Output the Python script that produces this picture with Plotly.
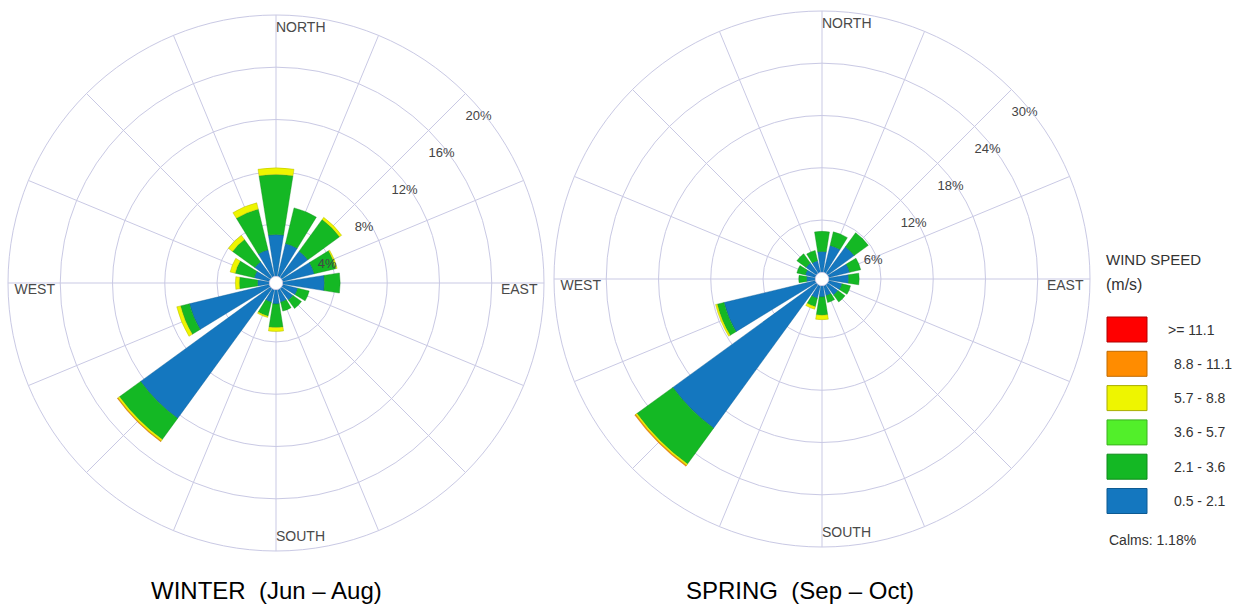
import plotly.graph_objects as go

# Compass directions (degrees, clockwise from north)
directions = [0, 22.5, 45, 67.5, 90, 112.5, 135, 157.5,
              180, 202.5, 225, 247.5, 270, 292.5, 315, 337.5]

# Wind speed classes (m/s)
speed_bins = ["0.5 - 2.1", "2.1 - 3.6", "3.6 - 5.7", "5.7 - 8.8", "8.8 - 11.1", ">= 11.1"]
bin_colors = ["#1477bf", "#14b824", "#52ef2a", "#eef500", "#ff8c00", "#ff0000"]
bin_edges = ["#0d5a92", "#0e8a1a", "#3bb01e", "#a8ad00", "#c06a00", "#b00000"]

# Frequency (%) per direction and speed class — winter
winter = {
    "0.5 - 2.1":  [3.2, 2.6, 2.5, 2.5, 3.2, 1.2, 1.1, 1.0, 1.1, 1.0, 12.3, 6.3, 0.9, 1.2, 1.5, 2.1],
    "2.1 - 3.6":  [4.6, 2.8, 3.0, 1.7, 1.2, 0.9, 0.8, 0.7, 1.8, 1.1, 2.0, 0.7, 1.4, 1.5, 2.1, 3.2],
    "3.6 - 5.7":  [0, 0, 0, 0, 0, 0, 0, 0, 0, 0, 0, 0, 0, 0, 0, 0],
    "5.7 - 8.8":  [0.5, 0.0, 0.2, 0.1, 0.0, 0.0, 0.0, 0.0, 0.3, 0.1, 0.15, 0.3, 0.3, 0.4, 0.4, 0.5],
    "8.8 - 11.1": [0, 0, 0, 0, 0, 0, 0, 0, 0, 0, 0.05, 0, 0, 0, 0, 0],
    ">= 11.1":    [0, 0, 0, 0, 0, 0, 0, 0, 0, 0, 0, 0, 0, 0, 0, 0],
}

# Frequency (%) per direction and speed class — spring
spring = {
    "0.5 - 2.1":  [2.4, 3.2, 3.8, 2.5, 2.3, 1.6, 1.5, 1.2, 1.3, 1.5, 20.4, 10.8, 1.0, 1.2, 1.5, 1.4],
    "2.1 - 3.6":  [2.3, 1.6, 2.0, 1.3, 1.2, 1.0, 1.0, 0.8, 2.1, 1.0, 5.1, 0.8, 0.9, 1.0, 1.3, 1.2],
    "3.6 - 5.7":  [0, 0, 0, 0, 0, 0, 0, 0, 0, 0, 0, 0, 0, 0, 0, 0],
    "5.7 - 8.8":  [0, 0, 0, 0, 0, 0, 0, 0, 0.5, 0.3, 0.2, 0.2, 0, 0, 0, 0],
    "8.8 - 11.1": [0, 0, 0, 0, 0, 0, 0, 0, 0, 0, 0.1, 0, 0, 0, 0, 0],
    ">= 11.1":    [0, 0, 0, 0, 0, 0, 0, 0, 0, 0, 0, 0, 0, 0, 0, 0],
}

winter_ticks = [4, 8, 12, 16, 20]
spring_ticks = [6, 12, 18, 24, 30]
compass_names = ["NORTH", "EAST", "SOUTH", "WEST"]
compass_theta = [0, 90, 180, 270]
season_titles = ["WINTER\u00a0\u00a0(Jun \u2013 Aug)", "SPRING\u00a0\u00a0(Sep \u2013 Oct)"]
calms_text = "Calms: 1.18%"

W, H = 1260, 611
GRID = "#c9c9e4"
LABEL_FONT = dict(family="Arial", size=14, color="#4a4a4a")

fig = go.Figure()


def add_rose(data, ticks, subplot):
    for name, col, edge in zip(speed_bins, bin_colors, bin_edges):
        fig.add_trace(go.Barpolar(
            r=data[name], theta=directions, width=[18] * len(directions),
            name=name, marker=dict(color=col, line=dict(color=edge, width=0.4)),
            subplot=subplot, showlegend=False, hoverinfo="skip",
        ))
    rmax = ticks[-1]
    # ring labels just below the north-east spoke
    fig.add_trace(go.Scatterpolar(
        r=ticks, theta=[45] * len(ticks), mode="text",
        text=[f"<br>{t}%" for t in ticks], textposition="bottom right",
        textfont=dict(family="Arial", size=13, color="#444444"),
        subplot=subplot, showlegend=False, hoverinfo="skip",
    ))
    # compass names just inside the outer ring
    fig.add_trace(go.Scatterpolar(
        r=[rmax * 0.975] * 4, theta=compass_theta, mode="text",
        text=compass_names,
        textposition=["bottom right", "bottom left", "top right", "bottom right"],
        textfont=LABEL_FONT, subplot=subplot, showlegend=False, hoverinfo="skip",
    ))


add_rose(winter, winter_ticks, "polar")
add_rose(spring, spring_ticks, "polar2")


def polar_layout(x0, x1, ytop, ybot, ticks):
    return dict(
        domain=dict(x=[x0 / W, x1 / W], y=[1 - ybot / H, 1 - ytop / H]),
        hole=0.025,
        bgcolor="white",
        barmode="stack",
        angularaxis=dict(rotation=90, direction="clockwise",
                         tickvals=directions, showticklabels=False, ticks="",
                         gridcolor=GRID, gridwidth=1,
                         showline=True, linecolor=GRID, linewidth=1),
        radialaxis=dict(range=[0, ticks[-1]], tickvals=ticks, showticklabels=False,
                        ticks="", showline=False, gridcolor=GRID, gridwidth=1),
    )


shapes = []
annotations = []

# legend swatches and labels
row_top, row_gap, sw_h = 317, 34.3, 25
for i, (name, col, edge) in enumerate(zip(speed_bins[::-1], bin_colors[::-1], bin_edges[::-1])):
    y0 = row_top + i * row_gap
    shapes.append(dict(type="rect", xref="paper", yref="paper",
                       x0=1107 / W, x1=1147 / W, y0=1 - (y0 + sw_h) / H, y1=1 - y0 / H,
                       fillcolor=col, line=dict(color=edge, width=1)))
    label = name.replace(" - ", " -\u00a0\u00a0") if len(name) < 9 else name
    annotations.append(dict(xref="paper", yref="paper", x=(1166 if i == 0 else 1172) / W,
                            y=1 - (y0 + sw_h / 2) / H, text=label, showarrow=False,
                            xanchor="left", yanchor="middle",
                            font=dict(family="Arial", size=14, color="#333333")))

annotations += [
    dict(xref="paper", yref="paper", x=1104 / W, y=1 - 259 / H, text="WIND\u00a0SPEED",
         showarrow=False, xanchor="left", yanchor="middle",
         font=dict(family="Arial", size=15, color="#333333")),
    dict(xref="paper", yref="paper", x=1104 / W, y=1 - 284 / H, text="(m/s)",
         showarrow=False, xanchor="left", yanchor="middle",
         font=dict(family="Arial", size=16, color="#333333")),
    dict(xref="paper", yref="paper", x=1107 / W, y=1 - 540 / H, text=calms_text,
         showarrow=False, xanchor="left", yanchor="middle",
         font=dict(family="Arial", size=14, color="#333333")),
    dict(xref="paper", yref="paper", x=266 / W, y=1 - 590 / H, text=season_titles[0],
         showarrow=False, xanchor="center", yanchor="middle",
         font=dict(family="Arial", size=24, color="black")),
    dict(xref="paper", yref="paper", x=800 / W, y=1 - 590 / H, text=season_titles[1],
         showarrow=False, xanchor="center", yanchor="middle",
         font=dict(family="Arial", size=24, color="black")),
]

fig.update_layout(
    width=W, height=H,
    margin=dict(l=0, r=0, t=0, b=0),
    paper_bgcolor="white", plot_bgcolor="white",
    polar=polar_layout(8, 544, 15, 551, winter_ticks),
    polar2=polar_layout(554, 1090, 11, 547, spring_ticks),
    shapes=shapes, annotations=annotations,
    showlegend=False,
)

fig.write_html("out.html")
